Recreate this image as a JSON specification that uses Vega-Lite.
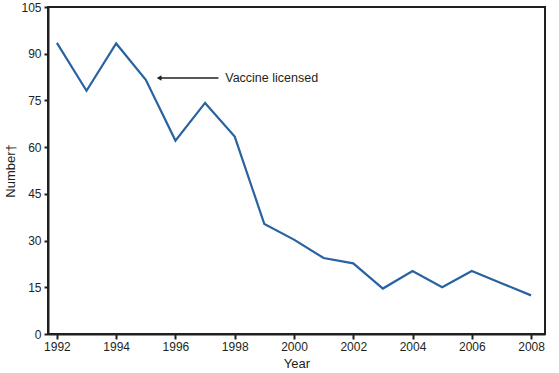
{
  "$schema": "https://vega.github.io/schema/vega-lite/v6.json",
  "width": 497,
  "height": 327,
  "autosize": "none",
  "padding": {"left": 48, "top": 7, "right": 14, "bottom": 39},
  "background": "white",
  "config": {
    "view": {"stroke": "#231f20", "strokeWidth": 2},
    "font": "Liberation Sans",
    "axis": {
      "domainColor": "#231f20", "domainWidth": 2, "tickColor": "#231f20", "tickWidth": 2,
      "labelColor": "#231f20", "labelFontSize": 12, "titleColor": "#231f20", "titleFontSize": 13,
      "titleFontWeight": "normal", "grid": false
    }
  },
  "datasets": {
    "series": [
      {"year": 1992, "number": 93.5},
      {"year": 1993, "number": 78.1},
      {"year": 1994, "number": 93.3},
      {"year": 1995, "number": 81.6},
      {"year": 1996, "number": 62.1},
      {"year": 1997, "number": 74.2},
      {"year": 1998, "number": 63.4},
      {"year": 1999, "number": 35.3},
      {"year": 2000, "number": 30.3},
      {"year": 2001, "number": 24.4},
      {"year": 2002, "number": 22.7},
      {"year": 2003, "number": 14.6},
      {"year": 2004, "number": 20.2},
      {"year": 2005, "number": 15.0},
      {"year": 2006, "number": 20.2},
      {"year": 2007, "number": 16.3},
      {"year": 2008, "number": 12.4}
    ],
    "note": [
      {"x": 1995.45, "x2": 1997.45, "y": 82.2, "tx": 1997.68, "label": "Vaccine licensed"}
    ]
  },
  "layer": [
    {
      "data": {"name": "series"},
      "mark": {"type": "line", "color": "#2862a0", "strokeWidth": 2.2},
      "encoding": {
        "x": {
          "field": "year", "type": "quantitative",
          "scale": {"domain": [1991.7, 2008.47], "nice": false, "zero": false},
          "axis": {
            "title": "Year", "values": [1992,1993,1994,1995,1996,1997,1998,1999,2000,2001,2002,2003,2004,2005,2006,2007,2008],
            "format": "d", "labelExpr": "datum.value % 2 == 0 ? datum.label : ''",
            "tickSize": 5, "labelPadding": 2, "titlePadding": 5
          }
        },
        "y": {
          "field": "number", "type": "quantitative",
          "scale": {"domain": [0, 105], "nice": false},
          "axis": {"title": "Number†", "values": [0,15,30,45,60,75,90,105], "tickSize": 4, "labelPadding": 3, "titlePadding": 3}
        }
      }
    },
    {
      "data": {"name": "note"},
      "mark": {"type": "rule", "color": "#231f20", "strokeWidth": 1.5},
      "encoding": {
        "x": {"field": "x", "type": "quantitative"},
        "x2": {"field": "x2"},
        "y": {"field": "y", "type": "quantitative"}
      }
    },
    {
      "data": {"name": "note"},
      "mark": {"type": "point", "shape": "triangle-left", "filled": true, "color": "#231f20", "size": 30, "opacity": 1},
      "encoding": {
        "x": {"field": "x", "type": "quantitative"},
        "y": {"field": "y", "type": "quantitative"}
      }
    },
    {
      "data": {"name": "note"},
      "mark": {"type": "text", "align": "left", "baseline": "middle", "fontSize": 12.5, "color": "#231f20"},
      "encoding": {
        "x": {"field": "tx", "type": "quantitative"},
        "y": {"field": "y", "type": "quantitative"},
        "text": {"field": "label"}
      }
    }
  ]
}
